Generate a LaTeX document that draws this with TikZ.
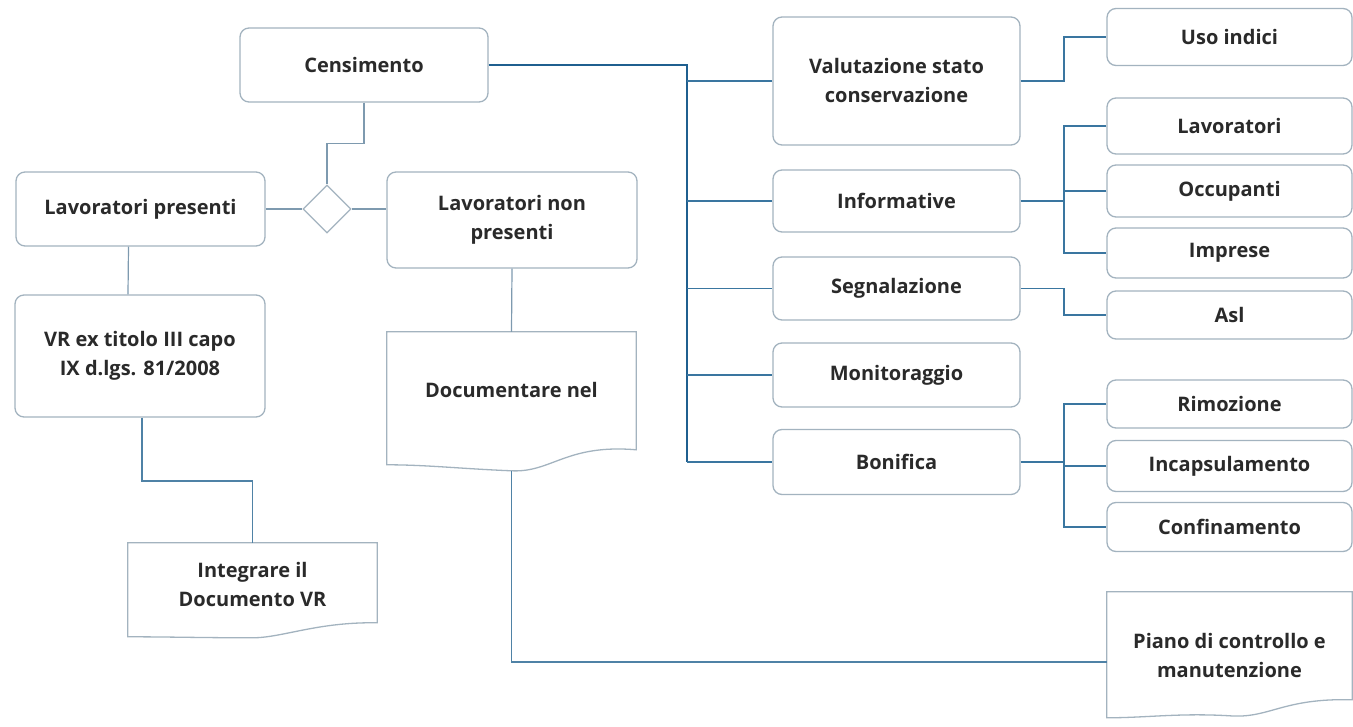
\documentclass[tikz,border=0pt]{standalone}
\usepackage{fontspec}
\newfontfamily\labfont{Open Sans}
\usetikzlibrary{shapes.geometric,calc}
\definecolor{boxc}{HTML}{A3B3BF}
\definecolor{txt}{HTML}{2A2A2A}
\definecolor{trunkc}{HTML}{1F5F8F}
\definecolor{linkc}{HTML}{3A76A0}
\definecolor{lightc}{HTML}{7E9AAF}
\definecolor{midc}{HTML}{4F82A6}
\begin{document}
\begin{tikzpicture}[x=1pt,y=-1pt,
  lab/.style={font=\labfont\bfseries\fontsize{20}{29}\selectfont, text=txt, align=center},
  box/.style={lab, draw=boxc, line width=1.3pt, rounded corners=9pt, fill=white, inner sep=0pt},
  docn/.style={lab, inner sep=0pt},
  docline/.style={draw=boxc, line width=1.3pt},
  decis/.style={diamond, draw=boxc, line width=1.3pt, fill=white, inner sep=0pt, minimum width=48pt, minimum height=48pt},
  trunk/.style={draw=trunkc, line width=2.2pt},
  link/.style={draw=linkc, line width=1.6pt},
  light/.style={draw=lightc, line width=1.2pt},
  mid/.style={draw=midc, line width=1.8pt}]
\useasboundingbox (0,0) rectangle (1353,727);

% left part
\node[box, minimum width=248pt, minimum height=74pt] (cens) at (364,65) {Censimento};
\node[box, minimum width=249pt, minimum height=74pt] (lp) at (140.5,209) {Lavoratori presenti};
\node[decis] (dia) at (327,209) {};
\node[box, minimum width=250pt, minimum height=96pt] (lnp) at (512,220) {Lavoratori non\\presenti};
\node[box, minimum width=250pt, minimum height=122pt] (vr) at (140,356) {VR ex titolo III capo\\IX d.lgs. 81/2008};

% document shapes
\node[docn, minimum width=249pt, minimum height=116pt] (doc) at (511.5,390) {Documentare nel};
\draw[docline] (doc.north west) -- (doc.north east) -- ($(doc.north east)+(0,118)$)
  .. controls ($(doc.north east)+(-70,112)$) and ($(doc.north)+(40,141)$) .. ($(doc.north)+(0,139)$)
  .. controls ($(doc.north)+(-50,137)$) and ($(doc.north west)+(40,133)$) .. ($(doc.north west)+(0,133)$) -- cycle;
\coordinate (docb) at ($(doc.north)+(0,139)$);

\node[docn, minimum width=249pt, minimum height=82pt] (int) at (252.5,584) {Integrare il\\Documento VR};
\draw[docline] (int.north west) -- (int.north east) -- ($(int.north east)+(0,80)$)
  .. controls ($(int.north east)+(-60,79)$) and ($(int.north)+(30,95)$) .. ($(int.north)+(0,95)$)
  .. controls ($(int.north)+(-50,95)$) and ($(int.north west)+(40,94)$) .. ($(int.north west)+(0,94)$) -- cycle;

\node[docn, minimum width=245pt, minimum height=126pt] (pia) at (1229.5,655) {Piano di controllo e\\manutenzione};
\draw[docline] (pia.north west) -- (pia.north east) -- ($(pia.north east)+(0,108)$)
  .. controls ($(pia.north east)+(-70,106)$) and ($(pia.north)+(40,127)$) .. ($(pia.north)+(0,124)$)
  .. controls ($(pia.north)+(-50,121)$) and ($(pia.north west)+(40,126)$) .. ($(pia.north west)+(0,126)$) -- cycle;

% middle column
\node[box, minimum width=247pt, minimum height=128pt] (val) at (896.5,81) {Valutazione stato\\conservazione};
\node[box, minimum width=247pt, minimum height=62pt] (inf) at (896.5,201) {Informative};
\node[box, minimum width=247pt, minimum height=63pt] (seg) at (896.5,288.5) {Segnalazione};
\node[box, minimum width=247pt, minimum height=64pt] (mon) at (896.5,375) {Monitoraggio};
\node[box, minimum width=247pt, minimum height=65pt] (bon) at (896.5,462) {Bonifica};

% right column
\node[box, minimum width=245pt, minimum height=57pt] (uso) at (1229.5,37) {Uso indici};
\node[box, minimum width=245pt, minimum height=56pt] (lav) at (1229.5,126) {Lavoratori};
\node[box, minimum width=245pt, minimum height=52pt] (occ) at (1229.5,191) {Occupanti};
\node[box, minimum width=245pt, minimum height=50pt] (imp) at (1229.5,253) {Imprese};
\node[box, minimum width=245pt, minimum height=48pt] (asl) at (1229.5,315) {Asl};
\node[box, minimum width=245pt, minimum height=48pt] (rim) at (1229.5,404) {Rimozione};
\node[box, minimum width=245pt, minimum height=51pt] (inc) at (1229.5,466) {Incapsulamento};
\node[box, minimum width=245pt, minimum height=49pt] (conf) at (1229.5,527) {Confinamento};

% connectors, left
\draw[light] (cens.south) -- ++(0,41) -| (dia.north);
\draw[light] (lp.east) -- (dia.west);
\draw[light] (dia.east) -- (dia.east -| lnp.west);
\draw[light] ([xshift=-12pt]lp.south) -- ([xshift=-12pt]vr.north);
\draw[mid] ([xshift=2pt]vr.south) -- ++(0,63) -| (int.north);
\draw[light] (lnp.south) -- (doc.north);
\draw[mid] (docb) |- ([yshift=-7pt]pia.west);

% trunk
\coordinate (tk) at (687,0);
\draw[trunk] (cens.east) -- (tk |- cens.east) -- (tk |- bon.west);
\foreach \n in {val,inf,seg,mon,bon} \draw[link] (tk |- \n.west) -- (\n.west);

% right connectors
\coordinate (rk) at (1064,0);
\draw[link] (val.east) -- (rk |- val.east) -- (rk |- uso.west) -- (uso.west);
\draw[link] (inf.east) -- (rk |- inf.east);
\draw[link] (lav.west) -- (rk |- lav.west) -- (rk |- imp.west) -- (imp.west);
\draw[link] (occ.west) -- (rk |- occ.west);
\draw[link] (seg.east) -- (rk |- seg.east) -- (rk |- asl.west) -- (asl.west);
\draw[link] (bon.east) -- (rk |- bon.east);
\draw[link] (rim.west) -- (rk |- rim.west) -- (rk |- conf.west) -- (conf.west);
\draw[link] (inc.west) -- (rk |- inc.west);
\end{tikzpicture}
\end{document}
